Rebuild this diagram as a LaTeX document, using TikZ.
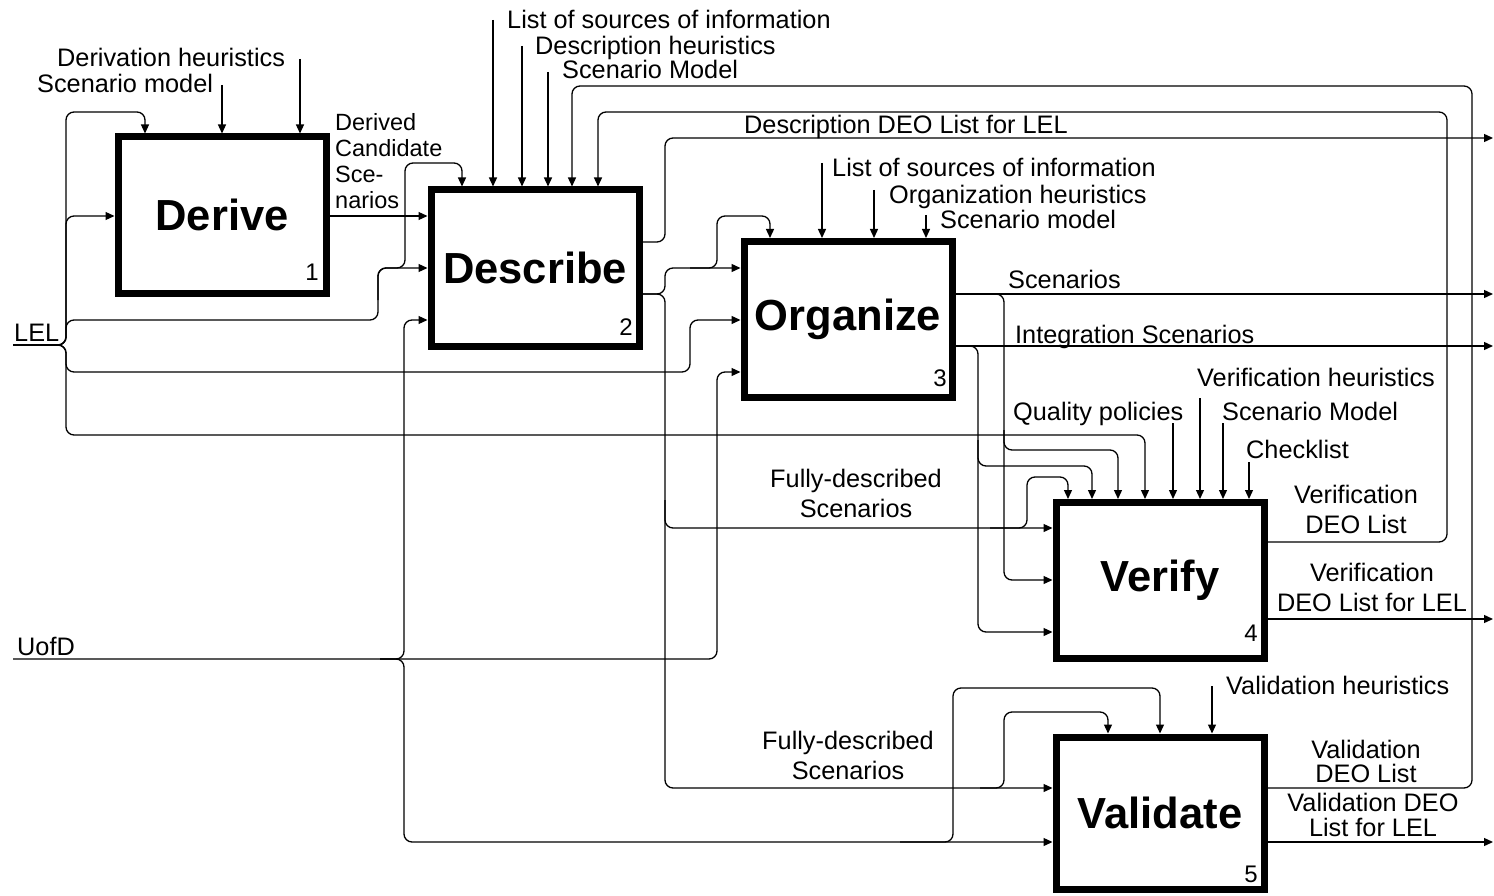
\documentclass[tikz,border=0pt]{standalone}
\usepackage{fontspec}
\setmainfont{Liberation Sans}
\usetikzlibrary{arrows.meta}
\begin{document}
\begin{tikzpicture}[x=1pt,y=-1pt,
  box/.style={draw, line width=7pt, minimum width=208pt, minimum height=156pt, inner sep=0pt, font=\fontsize{43.5}{50}\selectfont\bfseries},
  wire/.style={line width=1.3pt, rounded corners=8pt},
  arr/.style={wire, -{Triangle[length=9pt,width=8pt]}},
  lbl/.style={font=\fontsize{25.3}{30}\selectfont, inner sep=0pt},
  num/.style={font=\fontsize{24}{26}\selectfont, inner sep=0pt, anchor=base east}]
\useasboundingbox (0,0) rectangle (1494,896);

% activity boxes
\node[box] (d1) at (222,215) {Derive};
\node[box] (d2) at (535,268) {Describe};
\node[box] (d3) at (848,319.5) {Organize};
\node[box] (d4) at (1160,580.5) {Verify};
\node[box, minimum height=152pt] (d5) at (1160,813) {Validate};

\node[num] (n1) at (319,280) {1};
\node[num] (n2) at (633,335) {2};
\node[num] (n3) at (947,386) {3};
\node[num] (n4) at (1258,641) {4};
\node[num] (n5) at (1258,882) {5};

% Derive output
\draw[arr] (d1.east |- 0,216) -- (d2.west |- 0,216);

% LEL
\draw[arr] (13,345) -- (66,345) -- (66,112) -- (145,112) -- (d1.north -| 145,0);
\draw[arr] (13,345) -- (66,345) -- (66,216) -- (d1.west |- 0,216);
\draw[arr] (13,345) -- (66,345) -- (66,320) -- (378,320) -- (378,268) -- (d2.west |- 0,268);
\draw[arr] (378,300) -- (378,268) -- (405,268) -- (405,163) -- (462,163) -- (d2.north -| 462,0);
\draw[arr] (13,345) -- (66,345) -- (66,372) -- (690,372) -- (690,320) -- (d3.west |- 0,320);
\draw[arr] (40,345) -- (66,345) -- (66,435) -- (1145,435) -- (d4.north -| 1145,0);

% UofD
\draw[arr] (13,659) -- (717,659) -- (717,372) -- (d3.west |- 0,372);
\draw[arr] (380,659) -- (404,659) -- (404,320) -- (d2.west |- 0,320);
\draw[arr] (380,659) -- (404,659) -- (404,842) -- (d5.west |- 0,842);
\draw[arr] (900,842) -- (953,842) -- (953,688) -- (1160,688) -- (d5.north -| 1160,0);

% Describe outputs
\draw[arr] (d2.east |- 0,242) -- (665,242) -- (665,138) -- (1493,138);
\draw[arr] (d2.east |- 0,294) -- (665,294) -- (665,268) -- (d3.west |- 0,268);
\draw[arr] (690,268) -- (717,268) -- (717,216) -- (770,216) -- (d3.north -| 770,0);
\draw[arr] (d2.east |- 0,294) -- (665,294) -- (665,528) -- (d4.west |- 0,528);
\draw[arr] (990,528) -- (1027,528) -- (1027,477) -- (1068,477) -- (d4.north -| 1068,0);
\draw[arr] (665,500) -- (665,788) -- (d5.west |- 0,788);
\draw[arr] (980,788) -- (1004,788) -- (1004,712) -- (1108,712) -- (d5.north -| 1108,0);

% Organize outputs
\draw[arr] (d3.east |- 0,294) -- (1493,294);
\draw[arr] (980,294) -- (1004,294) -- (1004,450) -- (1118,450) -- (d4.north -| 1118,0);
\draw[arr] (1004,430) -- (1004,580) -- (d4.west |- 0,580);
\draw[arr] (d3.east |- 0,346) -- (1493,346);
\draw[arr] (962,346) -- (978,346) -- (978,466) -- (1092,466) -- (d4.north -| 1092,0);
\draw[arr] (978,440) -- (978,632) -- (d4.west |- 0,632);

% Verify outputs
\draw[arr] (d4.east |- 0,542) -- (1447,542) -- (1447,112) -- (598,112) -- (d2.north -| 598,0);
\draw[arr] (d4.east |- 0,619) -- (1493,619);

% Validate outputs
\draw[arr] (d5.east |- 0,788) -- (1472,788) -- (1472,86) -- (572,86) -- (d2.north -| 572,0);
\draw[arr] (d5.east |- 0,842) -- (1493,842);

% controls from labels
\draw[arr] (222,85) -- (d1.north -| 222,0);
\draw[arr] (300,59) -- (d1.north -| 300,0);
\draw[arr] (493,20) -- (d2.north -| 493,0);
\draw[arr] (522,46) -- (d2.north -| 522,0);
\draw[arr] (548,72) -- (d2.north -| 548,0);
\draw[arr] (822,163) -- (d3.north -| 822,0);
\draw[arr] (874,190) -- (d3.north -| 874,0);
\draw[arr] (926,215) -- (d3.north -| 926,0);
\draw[arr] (1173,423) -- (d4.north -| 1173,0);
\draw[arr] (1200,398) -- (d4.north -| 1200,0);
\draw[arr] (1223,423) -- (d4.north -| 1223,0);
\draw[arr] (1249,462) -- (d4.north -| 1249,0);
\draw[arr] (1212,686) -- (d5.north -| 1212,0);

% labels
\node[lbl, anchor=base west] (tLEL) at (14,341) {LEL};
\node[lbl, anchor=base west] (tUofD) at (17,655) {UofD};
\node[lbl, anchor=base west] at (57,67) {Derivation heuristics};
\node[lbl, anchor=base west] at (37,93) {Scenario model};
\node[lbl, anchor=north west, align=left, font=\fontsize{23.5}{26}\selectfont] at (335,113) {Derived\\Candidate\\Sce-\\narios};
\node[lbl, anchor=base west] at (507,29) {List of sources of information};
\node[lbl, anchor=base west] at (535,55) {Description heuristics};
\node[lbl, anchor=base west] at (562,79) {Scenario Model};
\node[lbl, anchor=base west] at (744,134) {Description DEO List for LEL};
\node[lbl, anchor=base west] at (832,177) {List of sources of information};
\node[lbl, anchor=base west] at (889,204) {Organization heuristics};
\node[lbl, anchor=base west] at (940,229) {Scenario model};
\node[lbl, anchor=base west] at (1008,288) {Scenarios};
\node[lbl, anchor=base west] at (1015,343) {Integration Scenarios};
\node[lbl, anchor=base west] at (1197,386) {Verification heuristics};
\node[lbl, anchor=base west] at (1013,420) {Quality policies};
\node[lbl, anchor=base west] at (1222,420) {Scenario Model};
\node[lbl, anchor=base west] at (1246,458) {Checklist};
\node[lbl, align=center] at (856,493) {Fully-described\\Scenarios};
\node[lbl, align=center] at (1356,509) {Verification\\DEO List};
\node[lbl, align=center] at (1372,587) {Verification\\DEO List for LEL};
\node[lbl, anchor=base west] at (1226,694) {Validation heuristics};
\node[lbl, align=center] at (848,755) {Fully-described\\Scenarios};
\node[lbl, align=center, font=\fontsize{25.3}{24}\selectfont] at (1366,761) {Validation\\DEO List};
\node[lbl, align=center, font=\fontsize{25.3}{25}\selectfont] at (1373,815) {Validation DEO\\List for LEL};
\end{tikzpicture}
\end{document}
